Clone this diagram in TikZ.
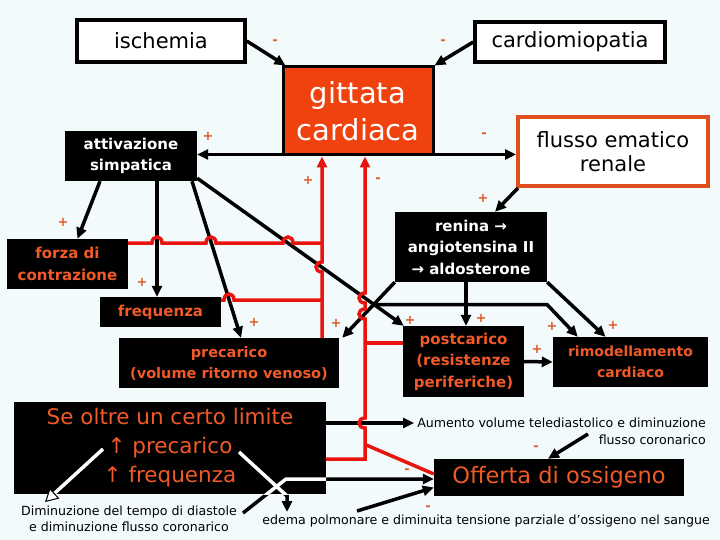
\documentclass[tikz,border=0pt]{standalone}
\usepackage{fontspec}
\setmainfont{DejaVu Sans}
\usetikzlibrary{arrows.meta,calc}
\definecolor{bgSky}{HTML}{F2FAFC}
\definecolor{gcRed}{HTML}{F0420E}
\definecolor{lnRed}{HTML}{E8140E}
\definecolor{txOrange}{HTML}{F05A28}
\definecolor{sgOrange}{HTML}{E05A28}
\definecolor{rnBorder}{HTML}{E0501E}
\tikzset{
  >={Triangle[length=11pt,width=10pt]},
  wbox/.style={draw=black, line width=3.5pt, fill=white, inner sep=0pt,
              align=center, font=\fontsize{21}{24}\selectfont},
  bbox/.style={fill=black, inner sep=0pt, align=center, text=white,
              font=\bfseries\fontsize{15}{21.5}\selectfont},
  obox/.style={bbox, text=txOrange},
  note/.style={inner sep=0pt, align=center, font=\fontsize{12.6}{16.5}\selectfont},
  sgn/.style={text=sgOrange, font=\bfseries\fontsize{13}{13}\selectfont, inner sep=0pt},
  arr/.style={->, draw=black, line width=3.5pt},
  warr/.style={draw=white, line width=3.5pt},
  redl/.style={draw=lnRed, line width=3.5pt},
}
% little bridges where a red line jumps a black one
\newcommand{\hopH}[2]{-- ({#1-5},#2) .. controls ({#1-5},{#2-8}) and ({#1+5},{#2-8}) .. ({#1+5},#2)}
\newcommand{\hopV}[2]{-- (#1,{#2-5}) .. controls ({#1-8},{#2-5}) and ({#1-8},{#2+5}) .. (#1,{#2+5})}

\begin{document}
\begin{tikzpicture}[x=1pt,y=-1pt]
\fill[bgSky] (0,0) rectangle (720,540);
\useasboundingbox (0,0) rectangle (720,540);

% boxes
\node[wbox,minimum width=168pt,minimum height=42pt] (isch) at (161,41) {ischemia};
\node[wbox,minimum width=190pt,minimum height=40pt] (cardio) at (570,42) {cardiomiopatia};
\node[wbox,fill=gcRed,line width=3pt,text=white,minimum width=150pt,minimum height=88pt,
      font=\fontsize{29}{37}\selectfont] (gitt) at (358,111) {gittata\\cardiaca};
\node[bbox,minimum width=132pt,minimum height=50pt] (attiv) at (131,156) {attivazione\\simpatica};
\node[wbox,draw=rnBorder,line width=4pt,minimum width=190pt,minimum height=69pt] (flusso) at (613,151.5) {flusso ematico\\renale};
\node[bbox,minimum width=152pt,minimum height=70pt] (renina) at (471,247) {renina →\\angiotensina II\\→ aldosterone};
\node[obox,minimum width=121pt,minimum height=50pt] (forza) at (67.5,264) {forza di\\contrazione};
\node[obox,minimum width=121pt,minimum height=30pt] (freq) at (160.5,312) {frequenza};
\node[obox,minimum width=220pt,minimum height=50pt,font=\bfseries\fontsize{14.5}{21}\selectfont] (prec) at (229,363) {precarico\\(volume ritorno venoso)};
\node[obox,minimum width=121pt,minimum height=71pt] (postc) at (463.5,361.5) {postcarico\\(resistenze\\periferiche)};
\node[obox,minimum width=155pt,minimum height=50pt,font=\bfseries\fontsize{14}{21}\selectfont] (rimod) at (630.5,362) {rimodellamento\\cardiaco};
\node[obox,minimum width=312pt,minimum height=92pt,font=\fontsize{21.5}{29}\selectfont] (seoltre) at (170,448) {Se oltre un certo limite\\↑ precarico\\↑ frequenza};
\node[obox,minimum width=250pt,minimum height=37pt,font=\fontsize{22.5}{26}\selectfont] (offerta) at (559,477.5) {Offerta di ossigeno};
\node[note,align=right,anchor=north east] (aum) at (706,418) {Aumento volume telediastolico e diminuzione\\flusso coronarico};
\node[note] (dimin) at (129,519) {Diminuzione del tempo di diastole\\e diminuzione flusso coronarico};
\node[note,anchor=base] (edema) at (486,524) {edema polmonare e diminuita tensione parziale d’ossigeno nel sangue};

% points for the connectors
\coordinate (d9a) at ([yshift=3pt]attiv.south east);
\coordinate (d9b) at ([xshift=1pt]postc.north west);
\coordinate (br) at ($(d9a)!0.857!(d9b)$);
\coordinate (c16) at (588,434);
\coordinate (c17a) at (243,513);
\coordinate (c17b) at (286,479);
\coordinate (c18a) at (239,452);
\coordinate (c18b) at (287,496);
\coordinate (c18c) at (287,512);
\coordinate (c19a) at (103,449);
\coordinate (c19b) at (45,502);
\coordinate (c20) at (357,511);

% black arrows
\draw[arr] (isch.east) -- ([xshift=4pt]gitt.north west);
\draw[arr] (cardio.west) -- (gitt.north east);
\draw[arr] ([yshift=2pt]gitt.south west) -- ([yshift=2pt]gitt.south west -| attiv.east);
\draw[arr] ([yshift=2pt]gitt.south east) -- ([yshift=2pt]gitt.south east -| flusso.west);
\draw[arr] ([xshift=2pt]flusso.south west) -- ([xshift=24pt]renina.north);
\draw[arr] ([xshift=-31pt]attiv.south) -- ([xshift=10pt]forza.north);
\draw[arr] ([xshift=26pt]attiv.south) -- ([xshift=26pt]attiv.south |- freq.north);
\draw[arr] ([xshift=61pt]attiv.south) -- ([xshift=12pt]prec.north);
\draw[arr] (d9a) -- (d9b);
\draw[arr] (br) -- (br -| renina.south east) -- ([xshift=25pt]rimod.north west);
\draw[arr] ([xshift=-5pt]renina.south) -- ([xshift=-5pt]renina.south |- postc.north);
\draw[arr] (renina.south west) -- ([xshift=3pt]prec.north east);
\draw[arr] (renina.south east) -- ([xshift=-25pt]rimod.north);
\draw[arr] (postc.east) -- (rimod.west);
\draw[arr] ([yshift=25pt]seoltre.east) -- ([yshift=25pt,xshift=-3pt]seoltre.east -| aum.west);
\draw[arr] (c16) -- ([xshift=-11pt]offerta.north);
\draw[arr] (c17a) -- (c17b) -- (c17b -| offerta.west);
\draw[arr] (c18a) -- (c18b) -- (c18c);
\draw[arr] (c20) -- ([yshift=-10pt]offerta.west);

% red feedback lines
\coordinate (r1t) at ([xshift=-36pt]gitt.south);
\coordinate (r1b) at ([xshift=93pt]prec.north);
\coordinate (r4t) at ([xshift=7pt]gitt.south);
\coordinate (f243) at ([yshift=21pt]forza.east);
\coordinate (f300) at ([yshift=12pt]freq.east);
\coordinate (s459) at ([yshift=-11pt]seoltre.east);
\coordinate (p343) at ([yshift=18.5pt]postc.west);
\coordinate (o474) at ([yshift=3.5pt]offerta.west);
\path (r4t) ++(0,288) coordinate (r6s);
\draw[redl,<-] (r1t) \hopV{322}{267} -- (r1b);
\draw[redl] (f243) \hopH{157}{243} \hopH{211}{243} \hopH{288}{243} -- (f243 -| r1t);
\draw[redl] (f300) \hopH{229}{300} -- (f300 -| r1t);
\draw[redl,<-] (r4t) \hopV{365}{298} \hopV{365}{314} \hopV{365}{423} -- (r4t |- s459) -- (s459);
\draw[redl] (r4t |- p343) -- (p343);
\draw[redl] (r6s) -- (o474);

% white parts inside the dark box
\begin{scope}
  \clip (seoltre.south west) rectangle (seoltre.north east);
  \draw[warr] (c17a) -- (c17b) -- (c17b -| offerta.west);
  \draw[warr] (c18a) -- (c18b) -- (c18c);
\end{scope}
\draw[warr,-{Triangle[length=13pt,width=14pt,color=black,fill=white,line width=1pt]}] (c19a) -- (c19b);

% signs
\foreach \x/\y/\s [count=\i] in {275/42/-, 443/42/-, 208/136/+, 484/135/-, 308/180/+,
    378/180/-, 483/198/+, 63/222/+, 142/282/+, 254/322/+, 336/323/+, 410/320/+,
    481/318/+, 552/326/+, 613/325/+, 537/349/+, 536/448/-, 407/471/-, 428/508/-}
  \node[sgn] (sg\i) at (\x,\y) {\s};
\end{tikzpicture}
\end{document}
